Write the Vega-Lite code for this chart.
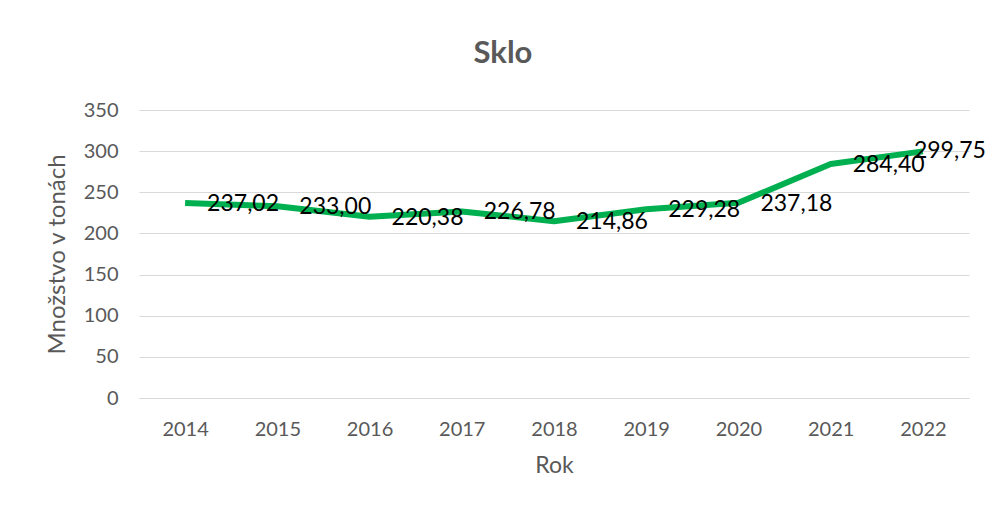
{
  "$schema": "https://vega.github.io/schema/vega-lite/v6.json",
  "width": 830,
  "height": 288,
  "autosize": "none",
  "padding": {"left": 139, "top": 110, "right": 18, "bottom": 111},
  "background": "white",
  "config": {
    "view": {"stroke": null},
    "font": "Lato",
    "locale": {"number": {"decimal": ",", "thousands": " ", "grouping": [3], "currency": ["", " €"]}}
  },
  "title": {
    "text": "Sklo",
    "fontSize": 31,
    "fontWeight": "bold",
    "color": "#595959",
    "font": "Lato",
    "anchor": "middle",
    "dx": -51,
    "offset": 30
  },
  "data": {
    "values": [
      {"year": "2014", "value": 237.02},
      {"year": "2015", "value": 233.00},
      {"year": "2016", "value": 220.38},
      {"year": "2017", "value": 226.78},
      {"year": "2018", "value": 214.86},
      {"year": "2019", "value": 229.28},
      {"year": "2020", "value": 237.18},
      {"year": "2021", "value": 284.40},
      {"year": "2022", "value": 299.75}
    ]
  },
  "encoding": {
    "x": {
      "field": "year",
      "type": "ordinal",
      "scale": {"type": "point", "padding": 0.5},
      "axis": {
        "title": "Rok",
        "titleFontSize": 23,
        "titleFontWeight": "normal",
        "titleColor": "#595959",
        "titlePadding": 15,
        "labelAngle": 0,
        "labelFontSize": 20,
        "labelColor": "#595959",
        "labelPadding": 21,
        "ticks": false,
        "domain": true,
        "domainColor": "#d9d9d9",
        "grid": false
      }
    },
    "y": {
      "field": "value",
      "type": "quantitative",
      "scale": {"domain": [0, 350], "nice": false},
      "axis": {
        "title": "Množstvo v tonách",
        "titleFontSize": 24,
        "titleFontWeight": "normal",
        "titleColor": "#595959",
        "titlePadding": 14,
        "values": [0, 50, 100, 150, 200, 250, 300, 350],
        "labelFontSize": 20,
        "labelColor": "#595959",
        "labelPadding": 21,
        "ticks": false,
        "domain": false,
        "grid": true,
        "gridColor": "#d9d9d9",
        "gridWidth": 1
      }
    }
  },
  "layer": [
    {
      "mark": {"type": "line", "color": "#00B050", "strokeWidth": 6, "strokeJoin": "round"}
    },
    {
      "transform": [{"filter": "datum.year != '2022'"}],
      "mark": {"type": "text", "align": "left", "baseline": "middle", "dx": 22, "dy": 1, "fontSize": 23, "color": "#000000", "font": "Lato"},
      "encoding": {"text": {"field": "value", "type": "quantitative", "format": ".2f"}}
    },
    {
      "transform": [{"filter": "datum.year == '2022'"}],
      "mark": {"type": "text", "align": "left", "baseline": "middle", "dx": -9, "dy": 0, "fontSize": 23, "color": "#000000", "font": "Lato"},
      "encoding": {"text": {"field": "value", "type": "quantitative", "format": ".2f"}}
    }
  ]
}
